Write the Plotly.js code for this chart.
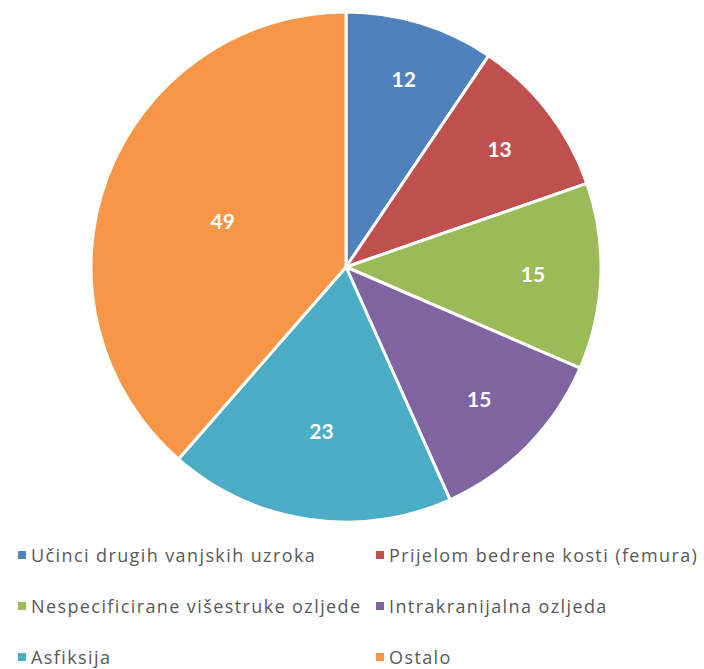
<!DOCTYPE html>
<html>
<head>
<meta charset="utf-8">
<script src="https://cdn.plot.ly/plotly-3.0.1.min.js"></script>
<style>
  html, body { margin: 0; padding: 0; background: #fff; }
  #chartDiv { width: 704px; height: 669px; }
</style>
</head>
<body>
<div id="chartDiv"></div>
<script>
// chart data
var categories = ['Učinci drugih vanjskih uzroka', 'Prijelom bedrene kosti (femura)',
    'Nespecificirane višestruke ozljede', 'Intrakranijalna ozljeda', 'Asfiksija', 'Ostalo'];
var counts = [12, 13, 15, 15, 23, 49];
var sliceColors = ['#4F81BD', '#C0504D', '#9BBB59', '#8064A2', '#4BACC6', '#F79646'];

var W = 704, H = 669; // page size in px

var data = [{
    type: 'pie',
    labels: categories,
    values: counts,
    sort: false,
    direction: 'clockwise',
    rotation: 0,
    textinfo: 'value',
    textposition: 'inside',
    insidetextorientation: 'horizontal',
    textfont: { family: 'Lato, sans-serif', size: 21, color: '#ffffff', weight: 'bold' },
    marker: { colors: sliceColors, line: { color: '#ffffff', width: 3 } },
    hoverinfo: 'label+value',
    domain: { x: [0.12, 0.863], y: [1 - 522 / H, 1 - 12 / H] }
}];

// legend is drawn by hand: 2 columns, 3 rows like the original
var annotations = [], shapes = [];
var colX = [18, 376], rowY = [555, 606, 657];
for (var i = 0; i < categories.length; i++) {
    var cx = colX[i % 2], cy = rowY[Math.floor(i / 2)];
    shapes.push({
        type: 'rect', xref: 'paper', yref: 'paper',
        x0: cx / W, x1: (cx + 8) / W,
        y0: 1 - (cy + 4) / H, y1: 1 - (cy - 4) / H,
        fillcolor: sliceColors[i], line: { width: 0 }
    });
    annotations.push({
        xref: 'paper', yref: 'paper',
        x: (cx + 11) / W, y: 1 - cy / H,
        xanchor: 'left', yanchor: 'middle',
        text: '<span style="letter-spacing:1.4px">' + categories[i] + '</span>',
        showarrow: false,
        font: { family: 'Open Sans, sans-serif', size: 18, color: '#595959' }
    });
}

var layout = {
    width: W, height: H,
    margin: { l: 0, r: 0, t: 0, b: 0 },
    showlegend: false,
    paper_bgcolor: '#ffffff',
    annotations: annotations,
    shapes: shapes
};

Plotly.newPlot('chartDiv', data, layout, { displayModeBar: false, staticPlot: true });
</script>
</body>
</html>
